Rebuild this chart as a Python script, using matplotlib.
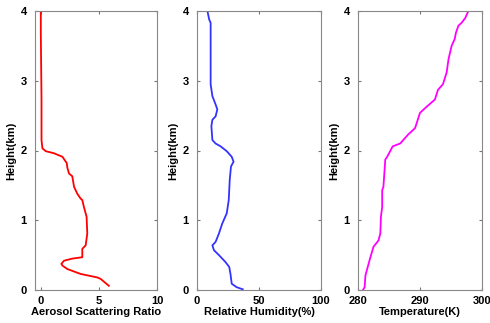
import matplotlib.pyplot as plt

# aerosol scattering ratio profile
asr_h = [0.06, 0.16, 0.18, 0.23, 0.30, 0.35, 0.375, 0.42, 0.45, 0.47, 0.59, 0.64, 0.81, 1.05,
         1.19, 1.29, 1.31, 1.38, 1.43, 1.48, 1.63, 1.67, 1.75, 1.82, 1.91, 1.96, 1.99, 2.03,
         2.15, 2.73, 3.69, 4.0]
asr = [5.86, 5.14, 4.86, 3.43, 2.29, 1.86, 1.77, 2.0, 2.71, 3.57, 3.57, 3.86, 4.0, 3.94,
       3.71, 3.57, 3.43, 3.14, 3.0, 2.86, 2.71, 2.43, 2.29, 2.23, 1.86, 1.14, 0.43, 0.14,
       0.06, 0.06, 0.0, 0.0]

# relative humidity profile
rh_h = [0.01, 0.04, 0.09, 0.23, 0.33, 0.40, 0.50, 0.57, 0.64, 0.69, 0.81, 0.95, 1.10, 1.29,
        1.58, 1.77, 1.84, 1.91, 1.99, 2.06, 2.10, 2.15, 2.35, 2.44, 2.49, 2.59, 2.66, 2.78,
        2.95, 3.30, 3.83, 3.88, 4.0]
rh = [36.9, 32, 28, 27, 26, 23, 17.7, 13.7, 12.4, 15, 17.7, 20.3, 24, 25.6,
      26.4, 27.4, 29.5, 28, 24, 19, 15, 12.4, 11.6, 12.4, 15, 16.4, 15, 12.4,
      11, 11, 11, 9.8, 8.4]

# temperature profile
t_h = [0.0, 0.04, 0.21, 0.47, 0.62, 0.71, 0.81, 1.05, 1.19, 1.43, 1.48, 1.87, 1.91, 2.06,
       2.10, 2.23, 2.32, 2.54, 2.63, 2.73, 2.87, 2.95, 3.12, 3.31, 3.50, 3.60, 3.69, 3.79,
       3.83, 3.90, 4.0]
temp = [280.8, 281.07, 281.2, 282.0, 282.5, 283.3, 283.6, 283.7, 283.9, 283.9, 284.1, 284.4,
        284.7, 285.6, 286.8, 288.1, 289.2, 290.0, 291.1, 292.4, 292.9, 293.7, 294.3, 294.6,
        295.1, 295.6, 295.8, 296.2, 296.7, 297.3, 297.8]

plt.rcParams['font.family'] = ['Liberation Sans', 'DejaVu Sans']
plt.rcParams['font.weight'] = 'bold'
plt.rcParams['axes.labelweight'] = 'bold'
plt.rcParams['font.size'] = 8

fig = plt.figure(figsize=(4.9, 3.23), dpi=100)
W, H = 490, 323

panels = [
    (35, 157, asr, asr_h, 'red', (-0.5, 10), [0, 5, 10], 'Aerosol Scattering Ratio'),
    (197, 321, rh, rh_h, '#3333ff', (0, 100), [0, 50, 100], 'Relative Humidity(%)'),
    (358, 482, temp, t_h, 'magenta', (280, 300), [280, 290, 300], 'Temperature(K)'),
]

for x0, x1, xs, ys, col, xl, xt, lab in panels:
    ax = fig.add_axes([x0 / W, 1 - 290 / H, (x1 - x0) / W, (290 - 11) / H])
    ax.plot(xs, ys, color=col, lw=1.3)
    ax.set_xlim(*xl)
    ax.set_ylim(0, 4)
    ax.set_xticks(xt)
    ax.set_yticks([0, 1, 2, 3, 4])
    ax.set_xlabel(lab, labelpad=1)
    ax.set_ylabel('Height(km)', labelpad=3)
    ax.tick_params(direction='in', length=2.5, color='#777777', top=True, right=True)
    ax.tick_params(axis='y', pad=6)
    ax.tick_params(axis='x', pad=4)
    for s in ax.spines.values():
        s.set_color('#888888')

plt.savefig('out.png', dpi=100)
